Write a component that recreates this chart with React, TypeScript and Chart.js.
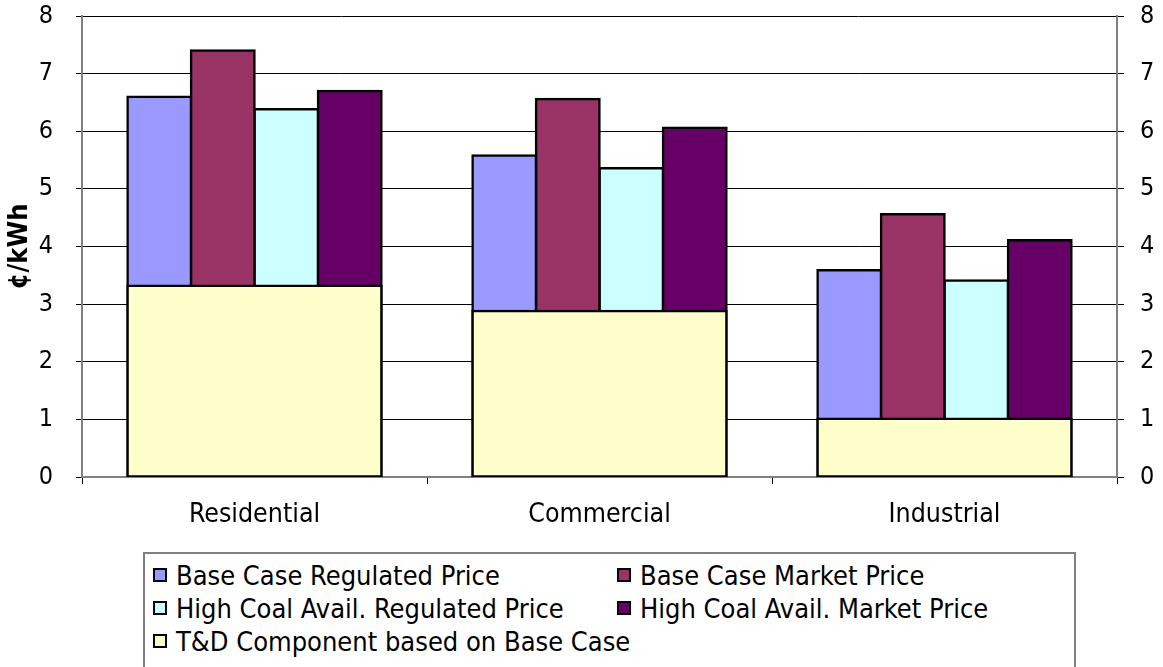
import React, { useEffect, useRef } from "react";
import { Chart, registerables } from "chart.js";

Chart.register(...registerables);

// Categories and price series (¢/kWh)
const categories = ["Residential", "Commercial", "Industrial"];
const baseRegulated = [6.6, 5.58, 3.59];
const baseMarket = [7.4, 6.56, 4.56];
const coalRegulated = [6.38, 5.36, 3.41];
const coalMarket = [6.7, 6.06, 4.11];
const tdComponent = [3.32, 2.88, 1.01];
const yTicks = [0, 1, 2, 3, 4, 5, 6, 7, 8];

const seriesNames = [
  "Base Case Regulated Price",
  "Base Case Market Price",
  "High Coal Avail. Regulated Price",
  "High Coal Avail. Market Price",
  "T&D Component based on Base Case",
];
const seriesColors = ["#9999FF", "#993366", "#CCFFFF", "#660066", "#FFFFCC"];

const FONT = "'DejaVu Sans Condensed', 'DejaVu Sans', sans-serif";
const W = 1163;
const H = 667;
const PLOT_TOP = 16;
const PLOT_LEFT = 82;
const PLOT_RIGHT = 1117;
const PLOT_BOTTOM = 477;
const GROUP = 0.736;

export default function App() {
  const canvasRef = useRef<HTMLCanvasElement | null>(null);

  useEffect(() => {
    const canvas = canvasRef.current;
    if (!canvas) return;
    const barBase = {
      borderColor: "#000000",
      borderWidth: 2.5,
      inflateAmount: 1.25,
      borderSkipped: false as const,
      categoryPercentage: GROUP,
      barPercentage: 1,
    };
    const values = [baseRegulated, baseMarket, coalRegulated, coalMarket];
    const datasets: any[] = values.map((d, i) => ({
      ...barBase,
      label: seriesNames[i],
      data: d,
      backgroundColor: seriesColors[i],
      order: 1,
    }));
    // T&D share spans the whole category group and sits on top of the price bars
    datasets.push({
      ...barBase,
      label: seriesNames[4],
      data: tdComponent,
      backgroundColor: seriesColors[4],
      grouped: false,
      order: 0,
    });

    const fixVertical = (width: number) => (s: any) => {
      s.width = width;
      s.paddingTop = 0;
      s.paddingBottom = 0;
    };

    const chart = new Chart(canvas, {
      type: "bar",
      data: { labels: categories, datasets },
      options: {
        responsive: false,
        animation: false,
        devicePixelRatio: 1,
        layout: { padding: { top: PLOT_TOP, left: 0, right: 0, bottom: 0 } },
        plugins: { legend: { display: false }, tooltip: { enabled: false } },
        scales: {
          x: {
            type: "category",
            position: "bottom",
            offset: true,
            grid: {
              offset: true,
              drawOnChartArea: false,
              drawTicks: true,
              tickLength: 7,
              color: "#000000",
            },
            border: { display: true, color: "#808080", width: 2 },
            ticks: {
              color: "#000000",
              padding: 15,
              font: { family: FONT, size: 26.5 },
              maxRotation: 0,
            },
            afterFit: (s: any) => {
              s.height = H - PLOT_BOTTOM;
              s.paddingLeft = 0;
              s.paddingRight = 0;
            },
          },
          y: {
            position: "left",
            min: 0,
            max: 8,
            afterBuildTicks: (s: any) => {
              s.ticks = yTicks.map((v) => ({ value: v }));
            },
            grid: { color: "#000000", lineWidth: 1, tickLength: 6 },
            border: { display: true, color: "#808080", width: 2 },
            ticks: {
              color: "#000000",
              padding: 23,
              font: { family: FONT, size: 25 },
            },
            title: {
              display: true,
              text: "¢/kWh",
              color: "#000000",
              padding: { top: 4, bottom: 0 },
              font: { family: FONT, size: 27, weight: "bold" },
            },
            afterFit: fixVertical(PLOT_LEFT),
          },
          y2: {
            position: "right",
            min: 0,
            max: 8,
            afterBuildTicks: (s: any) => {
              s.ticks = yTicks.map((v) => ({ value: v }));
            },
            grid: { drawOnChartArea: false, color: "#000000", tickLength: 7 },
            border: { display: true, color: "#808080", width: 2 },
            ticks: {
              color: "#000000",
              padding: 16,
              font: { family: FONT, size: 25 },
            },
            afterFit: fixVertical(W - PLOT_RIGHT),
          },
        },
      },
    });
    return () => chart.destroy();
  }, []);

  const legendRows = [
    [0, 1],
    [2, 3],
    [4],
  ];

  return (
    <div
      style={{
        position: "fixed",
        left: 0,
        top: 0,
        width: W,
        height: H,
        overflow: "hidden",
        background: "#ffffff",
      }}
    >
      <canvas ref={canvasRef} width={W} height={H} style={{ display: "block" }} />
      <div
        style={{
          position: "absolute",
          left: 143,
          top: 552,
          width: 1076 - 143,
          height: 140,
          border: "2px solid #808080",
          boxSizing: "border-box",
          background: "#ffffff",
          fontFamily: FONT,
          fontSize: 27,
          color: "#000000",
        }}
      >
        {legendRows.map((row, r) =>
          row.map((idx, c) => (
            <div
              key={idx}
              style={{
                position: "absolute",
                left: c === 0 ? 8 : 472,
                top: 6 + r * 33,
                height: 30,
                display: "flex",
                alignItems: "center",
                whiteSpace: "nowrap",
              }}
            >
              <span
                style={{
                  display: "inline-block",
                  width: 10,
                  height: 10,
                  border: "2px solid #000000",
                  background: seriesColors[idx],
                  marginRight: 9,
                }}
              />
              <span>{seriesNames[idx]}</span>
            </div>
          ))
        )}
      </div>
    </div>
  );
}
